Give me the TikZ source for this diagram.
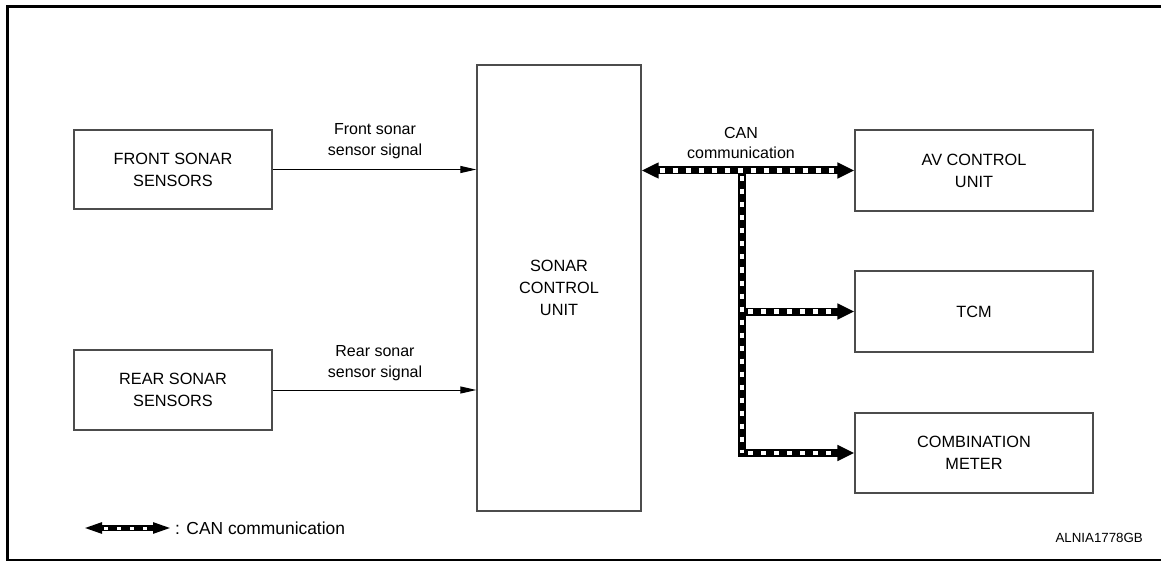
\documentclass[tikz,border=0pt]{standalone}
\usepackage{fontspec}
\setmainfont{Liberation Sans}
\usetikzlibrary{arrows.meta}
\begin{document}
\begin{tikzpicture}[x=1pt,y=-1pt,
  box/.style={draw=black!70, line width=1.3pt, align=center, inner sep=0pt,
    font=\fontsize{16.3}{22}\selectfont},
  lbl/.style={align=center, inner sep=0pt, font=\fontsize{16}{20.5}\selectfont},
  sig/.style={draw=black, line width=1pt, -{Triangle[length=16pt,width=7pt]}},
  canblack/.style={draw=black, line width=8pt, line join=miter},
  canwhite/.style={draw=white, line width=4.6pt, dash pattern=on 5pt off 8pt},
  frame/.style={draw=black, line width=3pt}
]
\useasboundingbox (0,0) rectangle (1161,561);
% frame
\coordinate (ftl) at (7.5,6.5);
\coordinate (ftr) at (1161,6.5);
\coordinate (fbr) at (1161,559.5);
\draw[frame] (ftr) -- (ftl) -- (7.5,561);
\draw[draw=black, line width=2pt] (6,559.5) -- (fbr);

% boxes
\node[box, minimum width=198pt, minimum height=79pt] (front) at (173,169.5) {FRONT SONAR\\SENSORS};
\node[box, minimum width=198pt, minimum height=80pt] (rear) at (173,390) {REAR SONAR\\SENSORS};
\node[box, minimum width=164pt, minimum height=446pt] (scu) at (559,288) {SONAR\\CONTROL\\UNIT};
\node[box, minimum width=238pt, minimum height=81pt] (av) at (974,170.5) {AV CONTROL\\UNIT};
\node[box, minimum width=238pt, minimum height=81pt] (tcm) at (974,311.5) {TCM};
\node[box, minimum width=238pt, minimum height=80pt] (combo) at (974,453) {COMBINATION\\METER};

% sensor signals
\draw[sig] (front.east) -- (front.east -| scu.west);
\draw[sig] (rear.east) -- (rear.east -| scu.west);
\node[lbl] (flbl) at (375,141) {Front sonar\\sensor signal};
\node[lbl] (rlbl) at (375,363) {Rear sonar\\sensor signal};

% CAN communication
\coordinate (cl) at (scu.east |- av.west);
\coordinate (br) at (742,170.5);
\draw[canblack, {Triangle[length=17pt,width=15pt]}-{Triangle[length=17pt,width=15pt]}] (cl) -- (av.west);
\draw[canblack, -{Triangle[length=17pt,width=15pt]}] (br) |- (combo.west);
\draw[canblack, -{Triangle[length=17pt,width=15pt]}] (br |- tcm.west) -- (tcm.west);
\draw[canwhite, shorten <=18pt, shorten >=18pt] (cl) -- (av.west);
\draw[canwhite, shorten <=6pt] (br) -- (br |- combo.west);
\draw[canwhite, shorten <=6pt, shorten >=18pt] (br |- combo.west) -- (combo.west);
\draw[canwhite, shorten <=6pt, shorten >=18pt] (br |- tcm.west) -- (tcm.west);
\node[lbl] (clbl) at (741,143) {CAN\\communication};

% legend
\coordinate (la) at (83,528);
\coordinate (lb) at (172,528);
\draw[draw=black, line width=5.5pt, {Triangle[length=19pt,width=10pt]}-{Triangle[length=19pt,width=10pt]}] (la) -- (lb);
\draw[draw=white, line width=3pt, dash pattern=on 4pt off 9pt, shorten <=21pt, shorten >=21pt] (la) -- (lb);
\node[lbl, anchor=west, font=\fontsize{17.4}{20}\selectfont] (ltext) at (175,528) {: CAN communication};

\node[inner sep=0pt, anchor=east, font=\fontsize{13.3}{15}\selectfont] (code) at (1143,538) {ALNIA1778GB};
\end{tikzpicture}
\end{document}
